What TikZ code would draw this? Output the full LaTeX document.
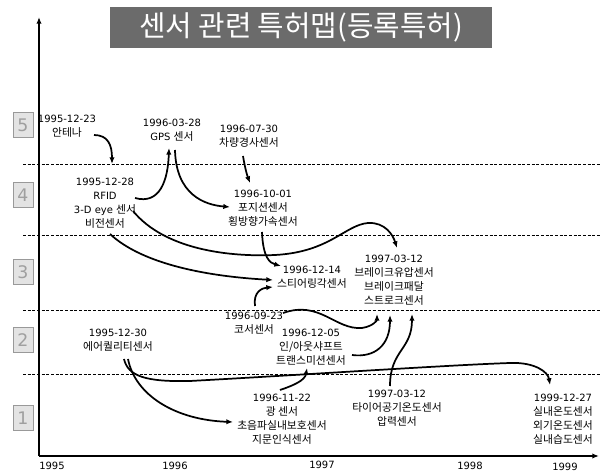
\documentclass[tikz,border=0pt]{standalone}
\usepackage{fontspec}
\setmainfont{DejaVu Sans}
\newfontfamily\kr[Scale=1.08]{Noto Sans CJK KR}
\usetikzlibrary{arrows.meta}
\begin{document}
\begin{tikzpicture}[x=0.75pt,y=-0.75pt,
  lbl/.style={font=\fontsize{7.5}{10.5}\selectfont, align=center, inner sep=0pt},
  yr/.style={font=\fontsize{7.5}{9}\selectfont, inner sep=0pt},
  lvl/.style={draw=gray!80, fill=gray!22, line width=0.6pt, minimum width=15pt, minimum height=19pt, inner sep=0pt, font=\fontsize{13}{14}\selectfont, text=gray!75},
  lev/.style={dash pattern=on 2.2pt off 1.3pt, line width=0.7pt},
  axis/.style={line width=1.1pt, -{Latex[length=5pt,width=4pt]}},
  arr/.style={line width=1.3pt, -{Latex[length=5pt,width=4pt]}}]
\useasboundingbox (0,0) rectangle (601,474);
% title
\node[fill=black!58, minimum width=286.5pt, minimum height=30.75pt, inner sep=0pt, text=white, font=\kr\fontsize{20}{24}\selectfont] (title) at (301,27.5) {센서 관련 특허맵(등록특허)};
% level separators
\coordinate (l54a) at (23,164); \coordinate (l54b) at (600,164);
\coordinate (l43a) at (23,235); \coordinate (l43b) at (600,235);
\coordinate (l32a) at (23,310); \coordinate (l32b) at (600,310);
\coordinate (l21a) at (23,374); \coordinate (l21b) at (600,374);
\draw[lev] (l54a) -- (l54b);
\draw[lev] (l43a) -- (l43b);
\draw[lev] (l32a) -- (l32b);
\draw[lev] (l21a) -- (l21b);
% axes
\coordinate (o) at (39,456); \coordinate (ytop) at (39,17); \coordinate (xend) at (599,456);
\draw[axis] (o) -- (ytop);
\draw[axis] (o) -- (xend);
% level boxes
\node[lvl] (b5) at (23,125) {5};
\node[lvl] (b4) at (23,195) {4};
\node[lvl] (b3) at (23,272) {3};
\node[lvl] (b2) at (23,340) {2};
\node[lvl] (b1) at (23,418) {1};
% years
\node[yr] (y95) at (52,466) {1995};
\node[yr] (y96) at (175,466) {1996};
\node[yr] (y97) at (322,465) {1997};
\node[yr] (y98) at (470,466) {1998};
\node[yr] (y99) at (565,467) {1999};
% labels
\node[lbl] (ant) at (67,126) {1995-12-23\\{\kr 안테나}};
\node[lbl] (rfid) at (105,203) {1995-12-28\\RFID\\3-D eye {\kr 센서}\\{\kr 비전센서}};
\node[lbl] (gps) at (172,130) {1996-03-28\\GPS {\kr 센서}};
\node[lbl] (cha) at (249,136) {1996-07-30\\{\kr 차량경사센서}};
\node[lbl] (pos) at (263,208) {1996-10-01\\{\kr 포지션센서}\\{\kr 횡방향가속센서}};
\node[lbl] (str) at (312,277) {1996-12-14\\{\kr 스티어링각센서}};
\node[lbl] (brk) at (394,280) {1997-03-12\\{\kr 브레이크유압센서}\\{\kr 브레이크패달}\\{\kr 스트로크센서}};
\node[lbl] (cos) at (254,323) {1996-09-23\\{\kr 코서센서}};
\node[lbl] (inout) at (311,347) {1996-12-05\\{\kr 인/아웃샤프트}\\{\kr 트랜스미션센서}};
\node[lbl] (air) at (118,340) {1995-12-30\\{\kr 에어퀄리티센서}};
\node[lbl] (light) at (282,419) {1996-11-22\\{\kr 광 센서}\\{\kr 초음파실내보호센서}\\{\kr 지문인식센서}};
\node[lbl] (tire) at (397,408) {1997-03-12\\{\kr 타이어공기온도센서}\\{\kr 압력센서}};
\node[lbl] (temp) at (563,419) {1999-12-27\\{\kr 실내온도센서}\\{\kr 외기온도센서}\\{\kr 실내습도센서}};
% connector end points
\coordinate (antS) at (94,135);   \coordinate (antE) at (112,164);
\coordinate (rfS) at (135,198);   \coordinate (gpsIn) at (169,148);
\coordinate (gpsS) at (175,150);  \coordinate (posIn) at (230,207);
\coordinate (chaS) at (243,156);  \coordinate (posTop) at (250,183);
\coordinate (eyeS) at (133,211);  \coordinate (brkTop) at (397,248);
\coordinate (visS) at (110,234);  \coordinate (strIn1) at (273,280);
\coordinate (posS) at (262,232);  \coordinate (strIn2) at (281,266);
\coordinate (cosS) at (255,306);  \coordinate (strIn3) at (273,287);
\coordinate (cosS2) at (283,313); \coordinate (brkIn1) at (377,314);
\coordinate (ioS) at (352,355);   \coordinate (brkIn2) at (390,315);
\coordinate (tireS) at (390,386); \coordinate (brkIn3) at (412,314);
\coordinate (airS) at (124,359);  \coordinate (tempIn) at (550,385);
\coordinate (airS2) at (128,359); \coordinate (lightIn) at (233,422);
\coordinate (lightS) at (280,390);\coordinate (ioIn) at (307,368);
% connectors
\draw[arr] (antS) .. controls (108,135) and (112,145) .. (antE);
\draw[arr] (rfS) .. controls (160,205) and (168,180) .. (gpsIn);
\draw[arr] (gpsS) .. controls (176,195) and (205,205) .. (posIn);
\draw[arr] (chaS) .. controls (245,168) and (247,175) .. (posTop);
\draw[arr] (eyeS) .. controls (165,250) and (230,257) .. (275,255) .. controls (330,252) and (345,225) .. (368,223) .. controls (385,222) and (393,235) .. (brkTop);
\draw[arr] (visS) .. controls (140,262) and (200,276) .. (strIn1);
\draw[arr] (posS) .. controls (263,258) and (270,263) .. (strIn2);
\draw[arr] (cosS) .. controls (253,292) and (262,288) .. (strIn3);
\draw[arr] (cosS2) .. controls (320,300) and (335,330) .. (362,328) .. controls (374,326) and (377,320) .. (brkIn1);
\draw[arr] (ioS) .. controls (375,358) and (390,345) .. (brkIn2);
\draw[arr] (tireS) .. controls (390,350) and (412,350) .. (brkIn3);
\draw[arr] (airS) .. controls (128,376) and (145,382) .. (190,381) .. controls (300,375) and (450,365) .. (510,363) .. controls (535,362) and (548,372) .. (tempIn);
\draw[arr] (airS2) .. controls (135,395) and (175,420) .. (lightIn);
\draw[arr] (lightS) .. controls (295,385) and (305,380) .. (ioIn);
\end{tikzpicture}
\end{document}
